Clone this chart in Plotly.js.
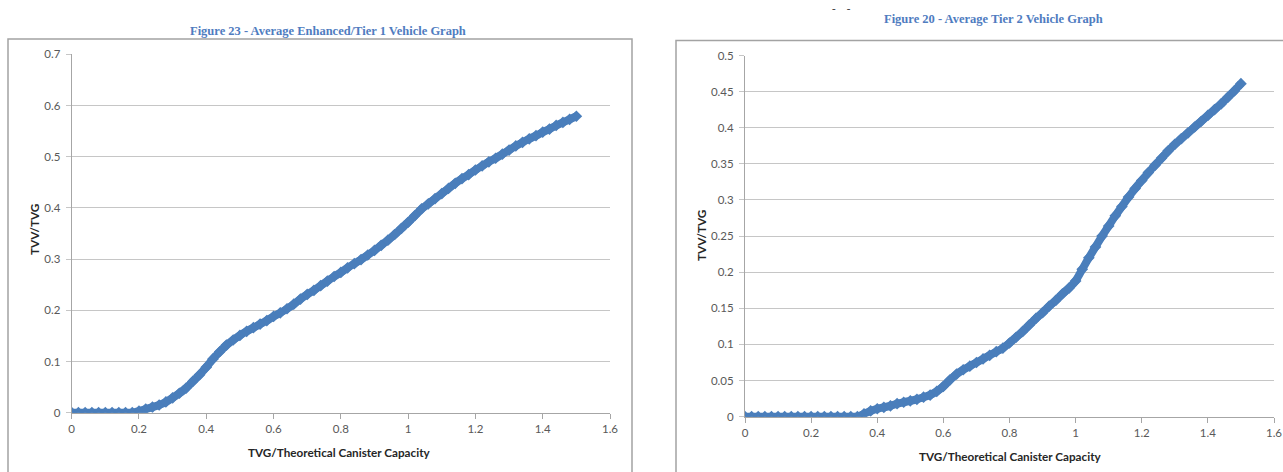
<!DOCTYPE html>
<html>
<head>
<meta charset="utf-8">
<script src="https://cdn.plot.ly/plotly-3.0.1.min.js"></script>
<style>
html,body{margin:0;padding:0;background:#ffffff;}
#chart{width:1283px;height:472px;}
</style>
</head>
<body>
<div id="chart"></div>
<script>
// ---- Data ----
var tier1X = [0,0.02,0.04,0.06,0.08,0.10,0.12,0.14,0.16,0.18,0.20,0.22,0.24,0.26,0.28,0.30,0.32,0.34,0.36,0.38,0.40,0.42,0.44,0.46,0.48,0.50,0.52,0.54,0.56,0.58,0.60,0.62,0.64,0.66,0.68,0.70,0.72,0.74,0.76,0.78,0.80,0.82,0.84,0.86,0.88,0.90,0.92,0.94,0.96,0.98,1.00,1.02,1.04,1.06,1.08,1.10,1.12,1.14,1.16,1.18,1.20,1.22,1.24,1.26,1.28,1.30,1.32,1.34,1.36,1.38,1.40,1.42,1.44,1.46,1.48,1.50];
var tier1Y = [0,0,0,0,0,0,0,0,0,0,0.003,0.007,0.011,0.015,0.021,0.029,0.038,0.048,0.061,0.074,0.089,0.105,0.119,0.132,0.142,0.151,0.159,0.166,0.173,0.180,0.188,0.195,0.203,0.212,0.222,0.231,0.239,0.248,0.257,0.266,0.274,0.283,0.291,0.299,0.308,0.317,0.327,0.337,0.348,0.360,0.372,0.385,0.398,0.408,0.418,0.428,0.438,0.448,0.457,0.465,0.474,0.482,0.490,0.497,0.505,0.513,0.521,0.528,0.535,0.541,0.548,0.554,0.561,0.567,0.573,0.579];

var tier2X = [0,0.02,0.04,0.06,0.08,0.10,0.12,0.14,0.16,0.18,0.20,0.22,0.24,0.26,0.28,0.30,0.32,0.34,0.36,0.38,0.40,0.42,0.44,0.46,0.48,0.50,0.52,0.54,0.56,0.58,0.60,0.62,0.64,0.66,0.68,0.70,0.72,0.74,0.76,0.78,0.80,0.82,0.84,0.86,0.88,0.90,0.92,0.94,0.96,0.98,1.00,1.02,1.04,1.06,1.08,1.10,1.12,1.14,1.16,1.18,1.20,1.22,1.24,1.26,1.28,1.30,1.32,1.34,1.36,1.38,1.40,1.42,1.44,1.46,1.48,1.50];
var tier2Y = [0,0,0,0,0,0,0,0,0,0,0,0,0,0,0,0,0,0,0.004,0.008,0.011,0.013,0.015,0.018,0.020,0.022,0.024,0.027,0.030,0.035,0.042,0.051,0.059,0.065,0.070,0.075,0.080,0.085,0.090,0.095,0.102,0.110,0.118,0.127,0.136,0.144,0.153,0.161,0.170,0.178,0.188,0.204,0.220,0.235,0.250,0.264,0.278,0.291,0.304,0.316,0.327,0.338,0.348,0.358,0.368,0.377,0.385,0.393,0.401,0.409,0.417,0.425,0.433,0.442,0.451,0.461];

var titleLeft = "Figure 23 - Average Enhanced/Tier 1 Vehicle Graph";
var titleRight = "Figure 20 - Average Tier 2 Vehicle Graph";
var xTitle = "TVG/Theoretical Canister Capacity";
var yTitle = "TVV/TVG";

// ---- Styling ----
var W = 1283, H = 472;
function px(x){ return x / W; }
function py(y){ return 1 - y / H; }
var blue = "#4a7ebb";
var gridC = "#c6c6c6";
var axisC = "#a6a6a6";
var tickFont = {family: "Lato, 'Liberation Sans', sans-serif", size: 11.5, color: "#595959"};
var titleFont = {family: "Lato, 'Liberation Sans', sans-serif", size: 11.7, color: "#262626", weight: "bold"};
var figFont = {family: "'Liberation Serif', 'DejaVu Serif', serif", size: 12.5, color: "#4f7cbf", weight: "bold"};

function seriesTrace(x, y, xa, ya){
  return {
    x: x, y: y, xaxis: xa, yaxis: ya,
    type: "scatter", mode: "lines+markers",
    line: {color: blue, width: 8, shape: "spline", smoothing: 0.6},
    marker: {symbol: "diamond", size: 9, color: blue, line: {width: 0}},
    hoverinfo: "x+y", showlegend: false
  };
}

var data = [
  seriesTrace(tier1X, tier1Y, "x", "y"),
  seriesTrace(tier2X, tier2Y, "x2", "y2")
];

function xAxis(d0, d1, anchor){
  return {
    domain: [d0, d1], anchor: anchor, range: [0, 1.6], tick0: 0, dtick: 0.2,
    ticks: "outside", ticklen: 5, tickcolor: axisC, tickwidth: 1,
    showline: true, linecolor: axisC, linewidth: 1,
    showgrid: false, zeroline: false, tickfont: tickFont, fixedrange: true
  };
}
function yAxis(d0, d1, anchor, top, dt){
  return {
    domain: [d0, d1], anchor: anchor, range: [0, top], tick0: 0, dtick: dt,
    ticks: "outside", ticklen: 5, tickcolor: gridC, tickwidth: 1,
    ticklabelstandoff: 3,
    showline: true, linecolor: axisC, linewidth: 1,
    showgrid: true, gridcolor: gridC, gridwidth: 1,
    zeroline: false, tickfont: tickFont, fixedrange: true
  };
}

var layout = {
  width: W, height: H,
  margin: {l: 0, r: 0, t: 0, b: 0},
  paper_bgcolor: "#ffffff", plot_bgcolor: "rgba(0,0,0,0)",
  showlegend: false,
  xaxis: xAxis(px(71.7), px(610), "y"),
  yaxis: yAxis(py(412.7), py(54.3), "x", 0.7, 0.1),
  xaxis2: xAxis(px(745), px(1274), "y2"),
  yaxis2: yAxis(py(416.7), py(55.5), "x2", 0.5, 0.05),
  shapes: [
    {type: "rect", xref: "paper", yref: "paper", x0: px(8), x1: px(632), y0: -0.05, y1: py(39),
     line: {color: "#a3a3a3", width: 1.5}, fillcolor: "rgba(0,0,0,0)", layer: "below"},
    {type: "rect", xref: "paper", yref: "paper", x0: px(676), x1: 1.05, y0: -0.05, y1: py(40.5),
     line: {color: "#a3a3a3", width: 1.5}, fillcolor: "rgba(0,0,0,0)", layer: "below"}
  ],
  annotations: [
    {text: titleLeft, xref: "paper", yref: "paper", x: px(328), y: py(31), xanchor: "center", yanchor: "middle", showarrow: false, font: figFont},
    {text: titleRight, xref: "paper", yref: "paper", x: px(993), y: py(19), xanchor: "center", yanchor: "middle", showarrow: false, font: figFont},
    {text: "-&nbsp;&nbsp;&nbsp;&nbsp;-", xref: "paper", yref: "paper", x: px(841), y: py(8), xanchor: "center", yanchor: "middle", showarrow: false, font: {family: "'Liberation Serif', serif", size: 11, color: "#444444", weight: "bold"}},
    {text: xTitle, xref: "paper", yref: "paper", x: px(339), y: py(452), xanchor: "center", yanchor: "middle", showarrow: false, font: titleFont},
    {text: xTitle, xref: "paper", yref: "paper", x: px(1010), y: py(456), xanchor: "center", yanchor: "middle", showarrow: false, font: titleFont},
    {text: yTitle, xref: "paper", yref: "paper", x: px(34), y: py(230), xanchor: "center", yanchor: "middle", textangle: -90, showarrow: false, font: titleFont},
    {text: yTitle, xref: "paper", yref: "paper", x: px(701), y: py(236), xanchor: "center", yanchor: "middle", textangle: -90, showarrow: false, font: titleFont}
  ]
};

Plotly.newPlot("chart", data, layout, {displayModeBar: false, staticPlot: true});
</script>
</body>
</html>
